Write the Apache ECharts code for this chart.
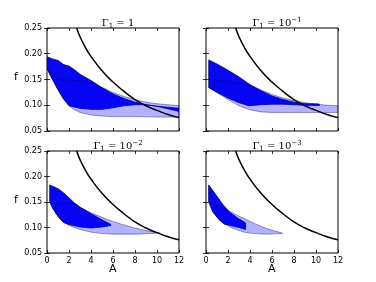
<!DOCTYPE html>
<html><head><meta charset="utf-8">
<script src="https://cdn.jsdelivr.net/npm/echarts@6/dist/echarts.min.js"></script>
<style>html,body{margin:0;padding:0;background:#fff}#c{width:376px;height:282px}</style>
</head><body><div id="c"></div>
<script>
// Black curve (same in all panels)
const curveA = [2.7, 3, 3.5, 4, 5, 6, 7, 8, 9, 10, 11, 12];
const curveF = [0.25, 0.233, 0.212, 0.195, 0.167, 0.145, 0.127, 0.111, 0.099, 0.090, 0.082, 0.076];

// Panel 1: Gamma1 = 1
const darkUpper1 = [[0,0.194],[0.5,0.19],[1,0.187],[1.5,0.179],[2,0.176],[2.5,0.169],[3,0.16],[4,0.148],[5,0.134],[6,0.122],[7,0.113],[8,0.106],[9,0.101],[10,0.098],[11,0.096],[12,0.094]];
const darkLower1 = [[0,0.171],[0.5,0.15],[1,0.13],[1.5,0.112],[2,0.099],[3,0.094],[4,0.092],[5,0.092],[6,0.095],[7,0.099],[8,0.101],[9,0.101],[10,0.098],[11,0.093],[12,0.088]];
const lightUpper1 = [[0,0.171],[0.5,0.16],[1,0.152],[1.5,0.149],[2,0.149],[3,0.148],[4,0.143],[5,0.135],[6,0.125],[7,0.117],[8,0.111],[9,0.106],[10,0.103],[11,0.101],[12,0.099]];
const lightLower1 = [[0,0.171],[1,0.13],[2,0.099],[2.5,0.091],[3,0.086],[4,0.081],[5,0.079],[6,0.078],[8,0.078],[10,0.077],[12,0.077]];

// Panel 2: Gamma1 = 10^-1
const darkUpper2 = [[0.25,0.188],[1,0.180],[2,0.168],[3,0.155],[4,0.140],[5,0.128],[6,0.118],[7,0.111],[8,0.106],[9,0.103],[10.3,0.1025]];
const darkLower2 = [[0.25,0.134],[1,0.125],[2,0.114],[3,0.105],[3.9,0.099],[5,0.101],[6,0.102],[7,0.102],[8,0.101],[9,0.100],[10.3,0.0995]];
const lightUpper2 = [[0.75,0.150],[2,0.147],[3,0.143],[4,0.139],[5,0.130],[6,0.121],[7,0.114],[8,0.109],[9,0.105],[10,0.102],[11,0.100],[12,0.099]];
const lightLower2 = [[0.75,0.128],[1.5,0.118],[2,0.111],[3,0.099],[4,0.091],[5,0.087],[6,0.086],[8,0.086],[10,0.086],[12,0.086]];

// Panel 3: Gamma1 = 10^-2
const darkUpper3 = [[0.25,0.1835],[1,0.176],[1.5,0.168],[2,0.158],[2.5,0.148],[3,0.140],[4,0.127],[5,0.115],[5.8,0.106]];
const darkLower3 = [[0.25,0.150],[0.5,0.138],[1,0.122],[1.5,0.110],[2,0.106],[3,0.101],[4,0.099],[5,0.101],[5.8,0.104]];
const lightUpper3 = [[0.75,0.146],[1.5,0.148],[2.2,0.147],[2.5,0.145],[3,0.139],[4,0.129],[5,0.120],[6,0.112],[7,0.105],[8,0.099],[9,0.094],[10.3,0.089]];
const lightLower3 = [[0.75,0.128],[1,0.122],[1.5,0.110],[2,0.104],[3,0.096],[4,0.091],[5,0.088],[6,0.087],[8,0.087],[10.3,0.089]];

// Panel 4: Gamma1 = 10^-3
const darkUpper4 = [[0.24,0.1835],[0.5,0.176],[0.9,0.164],[1.5,0.146],[2.1,0.131],[2.9,0.118],[3.6,0.109]];
const darkLower4 = [[0.24,0.151],[0.6,0.131],[1.2,0.115],[1.66,0.107],[2.4,0.103],[3.0,0.100],[3.6,0.096]];
const lightUpper4 = [[0.75,0.145],[1.2,0.142],[1.8,0.136],[2.4,0.129],[3,0.122],[3.6,0.116],[4.5,0.107],[5.5,0.098],[6.95,0.089]];
const lightLower4 = [[0.75,0.128],[1.2,0.115],[1.66,0.107],[2.2,0.101],[2.7,0.096],[3.6,0.090],[4.5,0.088],[5.5,0.087],[6.95,0.088]];

const panelTitles = ['1', '10', '10', '10'];
const panelExp = ['', '\u22121', '\u22122', '\u22123'];
const xTicks = [0, 2, 4, 6, 8, 10, 12];
const yTicks = [0.05, 0.10, 0.15, 0.20, 0.25];

const panels = [
  {dark:[darkUpper1,darkLower1], light:[lightUpper1,lightLower1]},
  {dark:[darkUpper2,darkLower2], light:[lightUpper2,lightLower2]},
  {dark:[darkUpper3,darkLower3], light:[lightUpper3,lightLower3]},
  {dark:[darkUpper4,darkLower4], light:[lightUpper4,lightLower4]}
];

const grids = [
  {left:47, top:28, width:132, height:103},
  {left:206, top:28, width:132, height:103},
  {left:47, top:151, width:132, height:102},
  {left:206, top:151, width:132, height:102}
];

const font = 'DejaVu Sans';
const xAxes = [], yAxes = [], series = [], titles = [];

grids.forEach((g, i) => {
  const bottomRow = i >= 2, leftCol = i % 2 === 0;
  const base = {min:0, max:12, interval:2, axisLine:{show:false}, splitLine:{show:false},
    axisTick:{show:true, inside:true, length:3, lineStyle:{color:'#000', width:0.8}}};
  xAxes.push(Object.assign({}, base, {type:'value', gridIndex:i, position:'bottom',
    axisLabel:{show:bottomRow, color:'#000', fontFamily:font, fontSize:8, margin:4,
      formatter: v => xTicks.includes(v) ? String(v) : ''}}));
  xAxes.push(Object.assign({}, base, {type:'value', gridIndex:i, position:'top', axisLabel:{show:false}}));
  const ybase = {type:'value', gridIndex:i, min:0.05, max:0.25, interval:0.05, axisLine:{show:false}, splitLine:{show:false},
    axisTick:{show:true, inside:true, length:3, lineStyle:{color:'#000', width:0.8}}};
  yAxes.push(Object.assign({}, ybase, {position:'left',
    axisLabel:{show:leftCol, color:'#000', fontFamily:font, fontSize:8, margin:5,
      formatter: v => yTicks.some(t => Math.abs(t - v) < 1e-9) ? v.toFixed(2) : ''}}));
  yAxes.push(Object.assign({}, ybase, {position:'right', axisLabel:{show:false}}));
  g.show = true; g.borderColor = '#000'; g.borderWidth = 1; g.backgroundColor = 'transparent';

  const p = panels[i];
  const poly = (upper, lower, fill, stroke, lw, z) => ({
    type:'custom', xAxisIndex:2*i, yAxisIndex:2*i, data:[[6,0.15]], silent:true, z:z, clip:true,
    renderItem: (params, api) => {
      const pts = upper.map(d => api.coord(d)).concat(lower.slice().reverse().map(d => api.coord(d)));
      return {type:'polygon', shape:{points:pts}, style:{fill:fill, stroke:stroke, lineWidth:lw}};
    }
  });
  series.push(poly(p.dark[0], p.dark[1], '#0808f0', '#00006e', 0.8, 2));
  series.push(poly(p.light[0], p.light[1], 'rgba(0,0,255,0.3)', 'rgba(0,0,90,0.55)', 0.7, 3));
  series.push({type:'line', xAxisIndex:2*i, yAxisIndex:2*i, smooth:true, showSymbol:false, clip:true, z:4,
    lineStyle:{color:'#000', width:1.5}, data: curveA.map((a, k) => [a, curveF[k]]), silent:true});

  titles.push({
    text: '{g|\u0393}{s|1}{g| = ' + panelTitles[i] + '}' + (panelExp[i] ? '{e|' + panelExp[i] + '}' : ''),
    left: g.left + g.width / 2, top: g.top - 16, textAlign:'center',
    textStyle:{fontWeight:'normal', rich:{
      g:{fontFamily:'DejaVu Serif', fontSize:10, fontWeight:'normal', color:'#000'},
      s:{fontFamily:'DejaVu Serif', fontSize:7, fontWeight:'normal', color:'#000', verticalAlign:'bottom', padding:[6,0,0,0]},
      e:{fontFamily:'DejaVu Serif', fontSize:7, fontWeight:'normal', color:'#000', verticalAlign:'top', padding:[0,0,6,0]}
    }}
  });
});

const chart = echarts.init(document.getElementById('c'), null, {renderer:'canvas'});
chart.setOption({
  animation:false,
  title: titles,
  grid: grids,
  xAxis: xAxes,
  yAxis: yAxes,
  series: series,
  graphic: [
    {type:'text', left:14, top:72, style:{text:'f', font:'11px DejaVu Sans', fill:'#000'}},
    {type:'text', left:14, top:195, style:{text:'f', font:'11px DejaVu Sans', fill:'#000'}},
    {type:'text', left:109, top:264, style:{text:'A', font:'11px DejaVu Sans', fill:'#000'}},
    {type:'text', left:268, top:264, style:{text:'A', font:'11px DejaVu Sans', fill:'#000'}}
  ]
});
</script></body></html>
